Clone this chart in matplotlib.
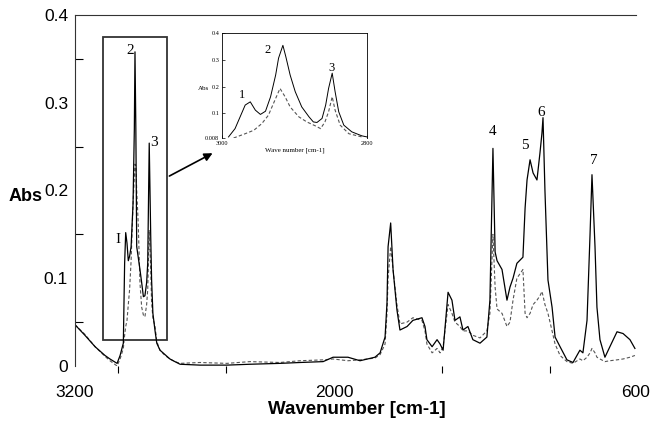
import matplotlib
matplotlib.use('Agg')
import matplotlib.pyplot as plt
import matplotlib.patches as mpatches

# main spectrum: wavenumber [cm-1], sample (solid) and reference (dashed)
wavenumber = [3200, 3154, 3107, 3061, 3038, 3005, 2991, 2976, 2970, 2965,
              2959, 2953, 2947, 2940, 2931, 2925, 2922, 2918, 2914, 2907,
              2899, 2891, 2883, 2876, 2868, 2863, 2856, 2849, 2845, 2839,
              2829, 2821, 2806, 2783, 2760, 2737, 2713, 2621, 2496, 2389,
              2250, 2157, 2050, 2004, 1935, 1879, 1810, 1786, 1763, 1754,
              1749, 1737, 1726, 1708, 1694, 1661, 1634, 1592, 1578, 1569,
              1545, 1522, 1508, 1494, 1471, 1453, 1439, 1416, 1402, 1379,
              1356, 1323, 1291, 1277, 1263, 1253, 1244, 1221, 1198, 1184,
              1170, 1152, 1124, 1114, 1105, 1091, 1077, 1059, 1045, 1036,
              1031, 1022, 1008, 989, 975, 952, 920, 892, 860, 846,
              827, 813, 804, 790, 781, 767, 744, 721, 688, 660,
              628, 605]
abs_sample = [0.047, 0.035, 0.022, 0.012, 0.008, 0.003, 0.012, 0.026, 0.117, 0.152,
              0.140, 0.120, 0.125, 0.136, 0.185, 0.270, 0.358, 0.270, 0.136, 0.124,
              0.110, 0.095, 0.079, 0.080, 0.095, 0.117, 0.254, 0.147, 0.098, 0.060,
              0.040, 0.026, 0.018, 0.013, 0.008, 0.005, 0.002, 0.001, 0.001, 0.002,
              0.003, 0.004, 0.005, 0.010, 0.010, 0.006, 0.010, 0.015, 0.033, 0.072,
              0.136, 0.163, 0.110, 0.064, 0.041, 0.045, 0.052, 0.055, 0.045, 0.030,
              0.022, 0.030, 0.025, 0.018, 0.084, 0.075, 0.052, 0.056, 0.041, 0.045,
              0.030, 0.026, 0.033, 0.075, 0.248, 0.130, 0.120, 0.110, 0.075, 0.090,
              0.100, 0.117, 0.124, 0.180, 0.212, 0.235, 0.220, 0.212, 0.243, 0.265,
              0.283, 0.200, 0.098, 0.067, 0.033, 0.022, 0.007, 0.004, 0.018, 0.015,
              0.052, 0.150, 0.218, 0.136, 0.067, 0.030, 0.010, 0.022, 0.039, 0.037,
              0.030, 0.020]
abs_reference = [0.047, 0.036, 0.022, 0.011, 0.006, 0.000, 0.008, 0.020, 0.035, 0.045,
                 0.052, 0.070, 0.087, 0.120, 0.185, 0.215, 0.230, 0.228, 0.200, 0.163,
                 0.095, 0.067, 0.058, 0.056, 0.070, 0.087, 0.155, 0.110, 0.072, 0.055,
                 0.045, 0.028, 0.018, 0.012, 0.008, 0.005, 0.003, 0.004, 0.003, 0.005,
                 0.004, 0.006, 0.007, 0.008, 0.006, 0.007, 0.009, 0.013, 0.025, 0.060,
                 0.100, 0.136, 0.110, 0.070, 0.048, 0.050, 0.055, 0.052, 0.040, 0.025,
                 0.015, 0.020, 0.015, 0.022, 0.070, 0.060, 0.050, 0.045, 0.040, 0.040,
                 0.035, 0.032, 0.040, 0.060, 0.150, 0.090, 0.065, 0.060, 0.045, 0.050,
                 0.075, 0.100, 0.110, 0.060, 0.055, 0.060, 0.070, 0.075, 0.080, 0.085,
                 0.080, 0.070, 0.060, 0.040, 0.025, 0.012, 0.005, 0.003, 0.008, 0.006,
                 0.010, 0.015, 0.020, 0.015, 0.010, 0.008, 0.005, 0.006, 0.007, 0.008,
                 0.010, 0.012]

# zoomed C-H stretch region (inset)
inset_wn_sample = [2991, 2982, 2975, 2968, 2961, 2954, 2947, 2940, 2933, 2926,
                   2922, 2916, 2912, 2906, 2899, 2890, 2880, 2874, 2869, 2862,
                   2857, 2853, 2848, 2844, 2839, 2832, 2821, 2807, 2800]
inset_abs_sample = [0.012, 0.043, 0.087, 0.131, 0.143, 0.112, 0.096, 0.108, 0.162, 0.243,
                    0.306, 0.354, 0.312, 0.243, 0.181, 0.124, 0.087, 0.068, 0.066, 0.081,
                    0.131, 0.193, 0.250, 0.181, 0.106, 0.056, 0.031, 0.016, 0.012]
inset_wn_ref = [2984, 2968, 2956, 2945, 2936, 2929, 2920, 2913, 2906, 2894,
                2883, 2871, 2864, 2858, 2853, 2848, 2844, 2837, 2825, 2807]
inset_abs_ref = [0.008, 0.024, 0.037, 0.062, 0.093, 0.137, 0.193, 0.162, 0.124, 0.087,
                 0.068, 0.053, 0.043, 0.068, 0.106, 0.162, 0.112, 0.056, 0.024, 0.012]

peak_labels = ['I', '2', '3', '4', '5', '6', '7']
peak_label_wn = [3001, 2945, 2834, 1267, 1114, 1040, 795]
peak_label_abs = [0.144, 0.360, 0.255, 0.267, 0.251, 0.289, 0.234]

inset_labels = ['1', '2', '3']
inset_label_wn = [2972, 2937, 2849]
inset_label_abs = [0.168, 0.337, 0.268]

sans = 'Liberation Sans'
serif = 'Liberation Serif'

fig = plt.figure(figsize=(6.52, 4.21), dpi=100)
ax = fig.add_axes([75 / 652, 55 / 421, 561 / 652, 351 / 421])

ax.plot(wavenumber, abs_reference, color='#555555', lw=0.8, dashes=(3, 2))
ax.plot(wavenumber, abs_sample, color='black', lw=0.9)

ax.set_xlim(3200, 600)
ax.set_ylim(0, 0.4)
ax.set_xticks([3200, 2000, 600])
ax.set_xticks([3000, 2500, 2000, 1500, 1000], minor=True)
ax.set_yticks([0, 0.1, 0.2, 0.3, 0.4])
ax.set_yticklabels(['0', '0.1', '0.2', '0.3', '0.4'])
ax.set_yticks([0.05, 0.15, 0.25, 0.35], minor=True)
ax.tick_params(axis='x', which='major', length=0, pad=14, labelsize=12.5)
ax.tick_params(axis='x', which='minor', direction='out', length=5, width=0.8)
ax.tick_params(axis='y', which='major', length=0, pad=5, labelsize=12.5)
ax.tick_params(axis='y', which='minor', direction='in', length=6, width=0.8)
for lbl in ax.get_xticklabels() + ax.get_yticklabels():
    lbl.set_fontfamily(sans)

ax.spines['right'].set_visible(False)
ax.spines['bottom'].set_visible(False)
ax.spines['left'].set_color('#333333')
ax.spines['top'].set_color('#333333')

ax.set_xlabel('Wavenumber [cm-1]', fontfamily=sans, fontweight='bold', fontsize=13.5)
ax.xaxis.set_label_coords(0.502, -0.1)
ax.set_ylabel('Abs', fontfamily=sans, fontweight='bold', fontsize=13, rotation=0)
ax.yaxis.set_label_coords(-0.088, 0.46)

for t, x, y in zip(peak_labels, peak_label_wn, peak_label_abs):
    ax.text(x, y, t, family=serif, fontsize=11, ha='center', va='center')

# box around the C-H region
ax.add_patch(mpatches.Rectangle((2774, 0.03), 296, 0.345, fill=False,
                                edgecolor='#333333', lw=1.3))
ax.annotate('', xy=(2551, 0.244), xytext=(2774, 0.215),
            arrowprops=dict(arrowstyle='-|>', color='black', lw=1.2,
                            mutation_scale=12))

# inset
axi = fig.add_axes([222 / 652, 283 / 421, 145 / 652, 105 / 421])
axi.plot(inset_wn_ref, inset_abs_ref, color='#555555', lw=0.8, dashes=(3, 2))
axi.plot(inset_wn_sample, inset_abs_sample, color='black', lw=0.7)
axi.set_xlim(3000, 2800)
axi.set_ylim(0.008, 0.4)
axi.set_xticks([3000, 2800])
axi.set_yticks([0.008, 0.1, 0.2, 0.3, 0.4])
axi.set_yticklabels(['0.008', '0.1', '0.2', '0.3', '0.4'])
axi.tick_params(axis='both', direction='in', length=2, width=0.5, labelsize=4.5, pad=2)
for lbl in axi.get_xticklabels() + axi.get_yticklabels():
    lbl.set_fontfamily(serif)
axi.spines['bottom'].set_visible(False)
for s in ['left', 'top', 'right']:
    axi.spines[s].set_linewidth(0.6)
axi.set_xlabel('Wave number [cm-1]', family=serif, fontsize=5, labelpad=1)
axi.set_ylabel('Abs', family=serif, fontsize=5, rotation=0)
axi.yaxis.set_label_coords(-0.13, 0.45)
for t, x, y in zip(inset_labels, inset_label_wn, inset_label_abs):
    axi.text(x, y, t, family=serif, fontsize=9, ha='center', va='center')

fig.savefig('out.png', dpi=100)
